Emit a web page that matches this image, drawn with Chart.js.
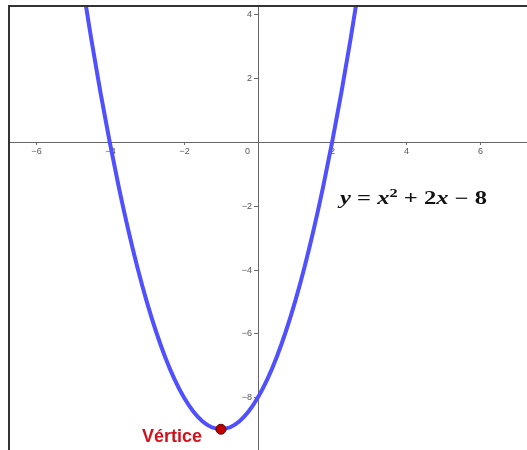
<!DOCTYPE html>
<html>
<head>
<meta charset="utf-8">
<script src="https://cdn.jsdelivr.net/npm/chart.js@4.4.1/dist/chart.umd.min.js"></script>
<style>
  html, body { margin: 0; padding: 0; background: #fff; overflow: hidden; }
  canvas { display: block; }
</style>
</head>
<body>
<canvas id="plot" width="527" height="450"></canvas>
<script>
const curveX = [-5, -4.75, -4.5, -4.25, -4, -3.75, -3.5, -3.25, -3, -2.75, -2.5, -2.25, -2, -1.75, -1.5, -1.25, -1,
                -0.75, -0.5, -0.25, 0, 0.25, 0.5, 0.75, 1, 1.25, 1.5, 1.75, 2, 2.25, 2.5, 2.75, 3];
const curveY = [7, 5.0625, 3.25, 1.5625, 0, -1.4375, -2.75, -3.9375, -5, -5.9375, -6.75, -7.4375, -8, -8.4375, -8.75, -8.9375, -9,
                -8.9375, -8.75, -8.4375, -8, -7.4375, -6.75, -5.9375, -5, -3.9375, -2.75, -1.4375, 0, 1.5625, 3.25, 5.0625, 7];
const vertex = { x: -1, y: -9 };
const vertexLabel = 'Vértice';
const xTicks = [-6, -4, -2, 2, 4, 6];
const yTicks = [4, 2, -2, -4, -6, -8];

const fmt = v => (v < 0 ? '\u2212' + Math.abs(v) : String(v));

const axesPlugin = {
    id: 'axes',
    beforeDatasetsDraw(chart) {
        const { ctx, chartArea: a, scales: { x, y } } = chart;
        const ox = x.getPixelForValue(0), oy = y.getPixelForValue(0);
        ctx.save();
        ctx.strokeStyle = '#666';
        ctx.lineWidth = 1;
        ctx.beginPath();
        ctx.moveTo(a.left, Math.round(oy) + 0.5); ctx.lineTo(a.right, Math.round(oy) + 0.5);
        ctx.moveTo(Math.round(ox) + 0.5, a.top); ctx.lineTo(Math.round(ox) + 0.5, a.bottom);
        ctx.stroke();

        ctx.font = '9px "Liberation Sans", Arial, sans-serif';
        ctx.fillStyle = '#555';
        // x ticks
        ctx.textAlign = 'center';
        ctx.textBaseline = 'middle';
        xTicks.forEach(t => {
            const px = Math.round(x.getPixelForValue(t)) + 0.5;
            ctx.beginPath(); ctx.moveTo(px, oy); ctx.lineTo(px, oy + 3); ctx.stroke();
            ctx.fillText(fmt(t), px, oy + 10);
        });
        // y ticks
        ctx.textAlign = 'right';
        yTicks.forEach(t => {
            const py = Math.round(y.getPixelForValue(t)) + 0.5;
            ctx.beginPath(); ctx.moveTo(ox - 4, py); ctx.lineTo(ox, py); ctx.stroke();
            ctx.fillText(fmt(t), ox - 6, py);
        });
        ctx.fillText('0', ox - 8, oy + 10);
        ctx.restore();
    },
    afterDraw(chart) {
        const { ctx, chartArea: a, scales: { x, y } } = chart;
        ctx.save();
        // frame (top + left)
        ctx.strokeStyle = '#333';
        ctx.lineWidth = 2;
        ctx.beginPath();
        ctx.moveTo(a.left, a.bottom); ctx.lineTo(a.left, a.top); ctx.lineTo(a.right, a.top);
        ctx.stroke();

        // vertex label
        ctx.fillStyle = '#d4101c';
        ctx.font = 'bold 18px "Liberation Sans", Arial, sans-serif';
        ctx.textAlign = 'right';
        ctx.textBaseline = 'middle';
        ctx.fillText(vertexLabel, x.getPixelForValue(vertex.x) - 19, y.getPixelForValue(vertex.y) + 8);

        // equation  y = x² + 2x − 8
        const it = 'bold italic 18px "Liberation Serif", serif';
        const up = 'bold 18px "Liberation Serif", serif';
        const sup = 'bold 12px "Liberation Serif", serif';
        const parts = [
            ['y', it, 0], [' = ', up, 0], ['x', it, 0], ['2', sup, -7],
            [' + 2', up, 0], ['x', it, 0], [' \u2212 8', up, 0]
        ];
        let total = 0;
        parts.forEach(p => { ctx.font = p[1]; total += ctx.measureText(p[0]).width; });
        ctx.translate(340, 204);
        ctx.scale(147 / total, 1);
        ctx.fillStyle = '#111';
        ctx.textAlign = 'left';
        ctx.textBaseline = 'alphabetic';
        let cx = 0;
        parts.forEach(p => {
            ctx.font = p[1];
            ctx.fillText(p[0], cx, p[2]);
            cx += ctx.measureText(p[0]).width;
        });
        ctx.restore();
    }
};

new Chart(document.getElementById('plot'), {
    type: 'scatter',
    data: {
        datasets: [
            {
                label: 'f',
                data: curveX.map((v, i) => ({ x: v, y: curveY[i] })),
                showLine: true,
                borderColor: 'rgb(80, 80, 255)',
                borderWidth: 4,
                pointRadius: 0,
                cubicInterpolationMode: 'monotone',
                order: 2
            },
            {
                label: 'V',
                data: [vertex],
                pointRadius: 5,
                backgroundColor: '#c00000',
                borderColor: '#5a0000',
                borderWidth: 1,
                order: 1
            }
        ]
    },
    options: {
        responsive: false, animation: false,
        layout: { autoPadding: false, padding: { left: 9, top: 6, right: 0, bottom: 0 } },
        scales: {
            x: { type: 'linear', min: -6.715, max: 7.254, display: false },
            y: { type: 'linear', min: -9.65, max: 4.26, display: false }
        },
        plugins: { legend: { display: false }, tooltip: { enabled: false } }
    },
    plugins: [axesPlugin]
});
</script>
</body>
</html>
